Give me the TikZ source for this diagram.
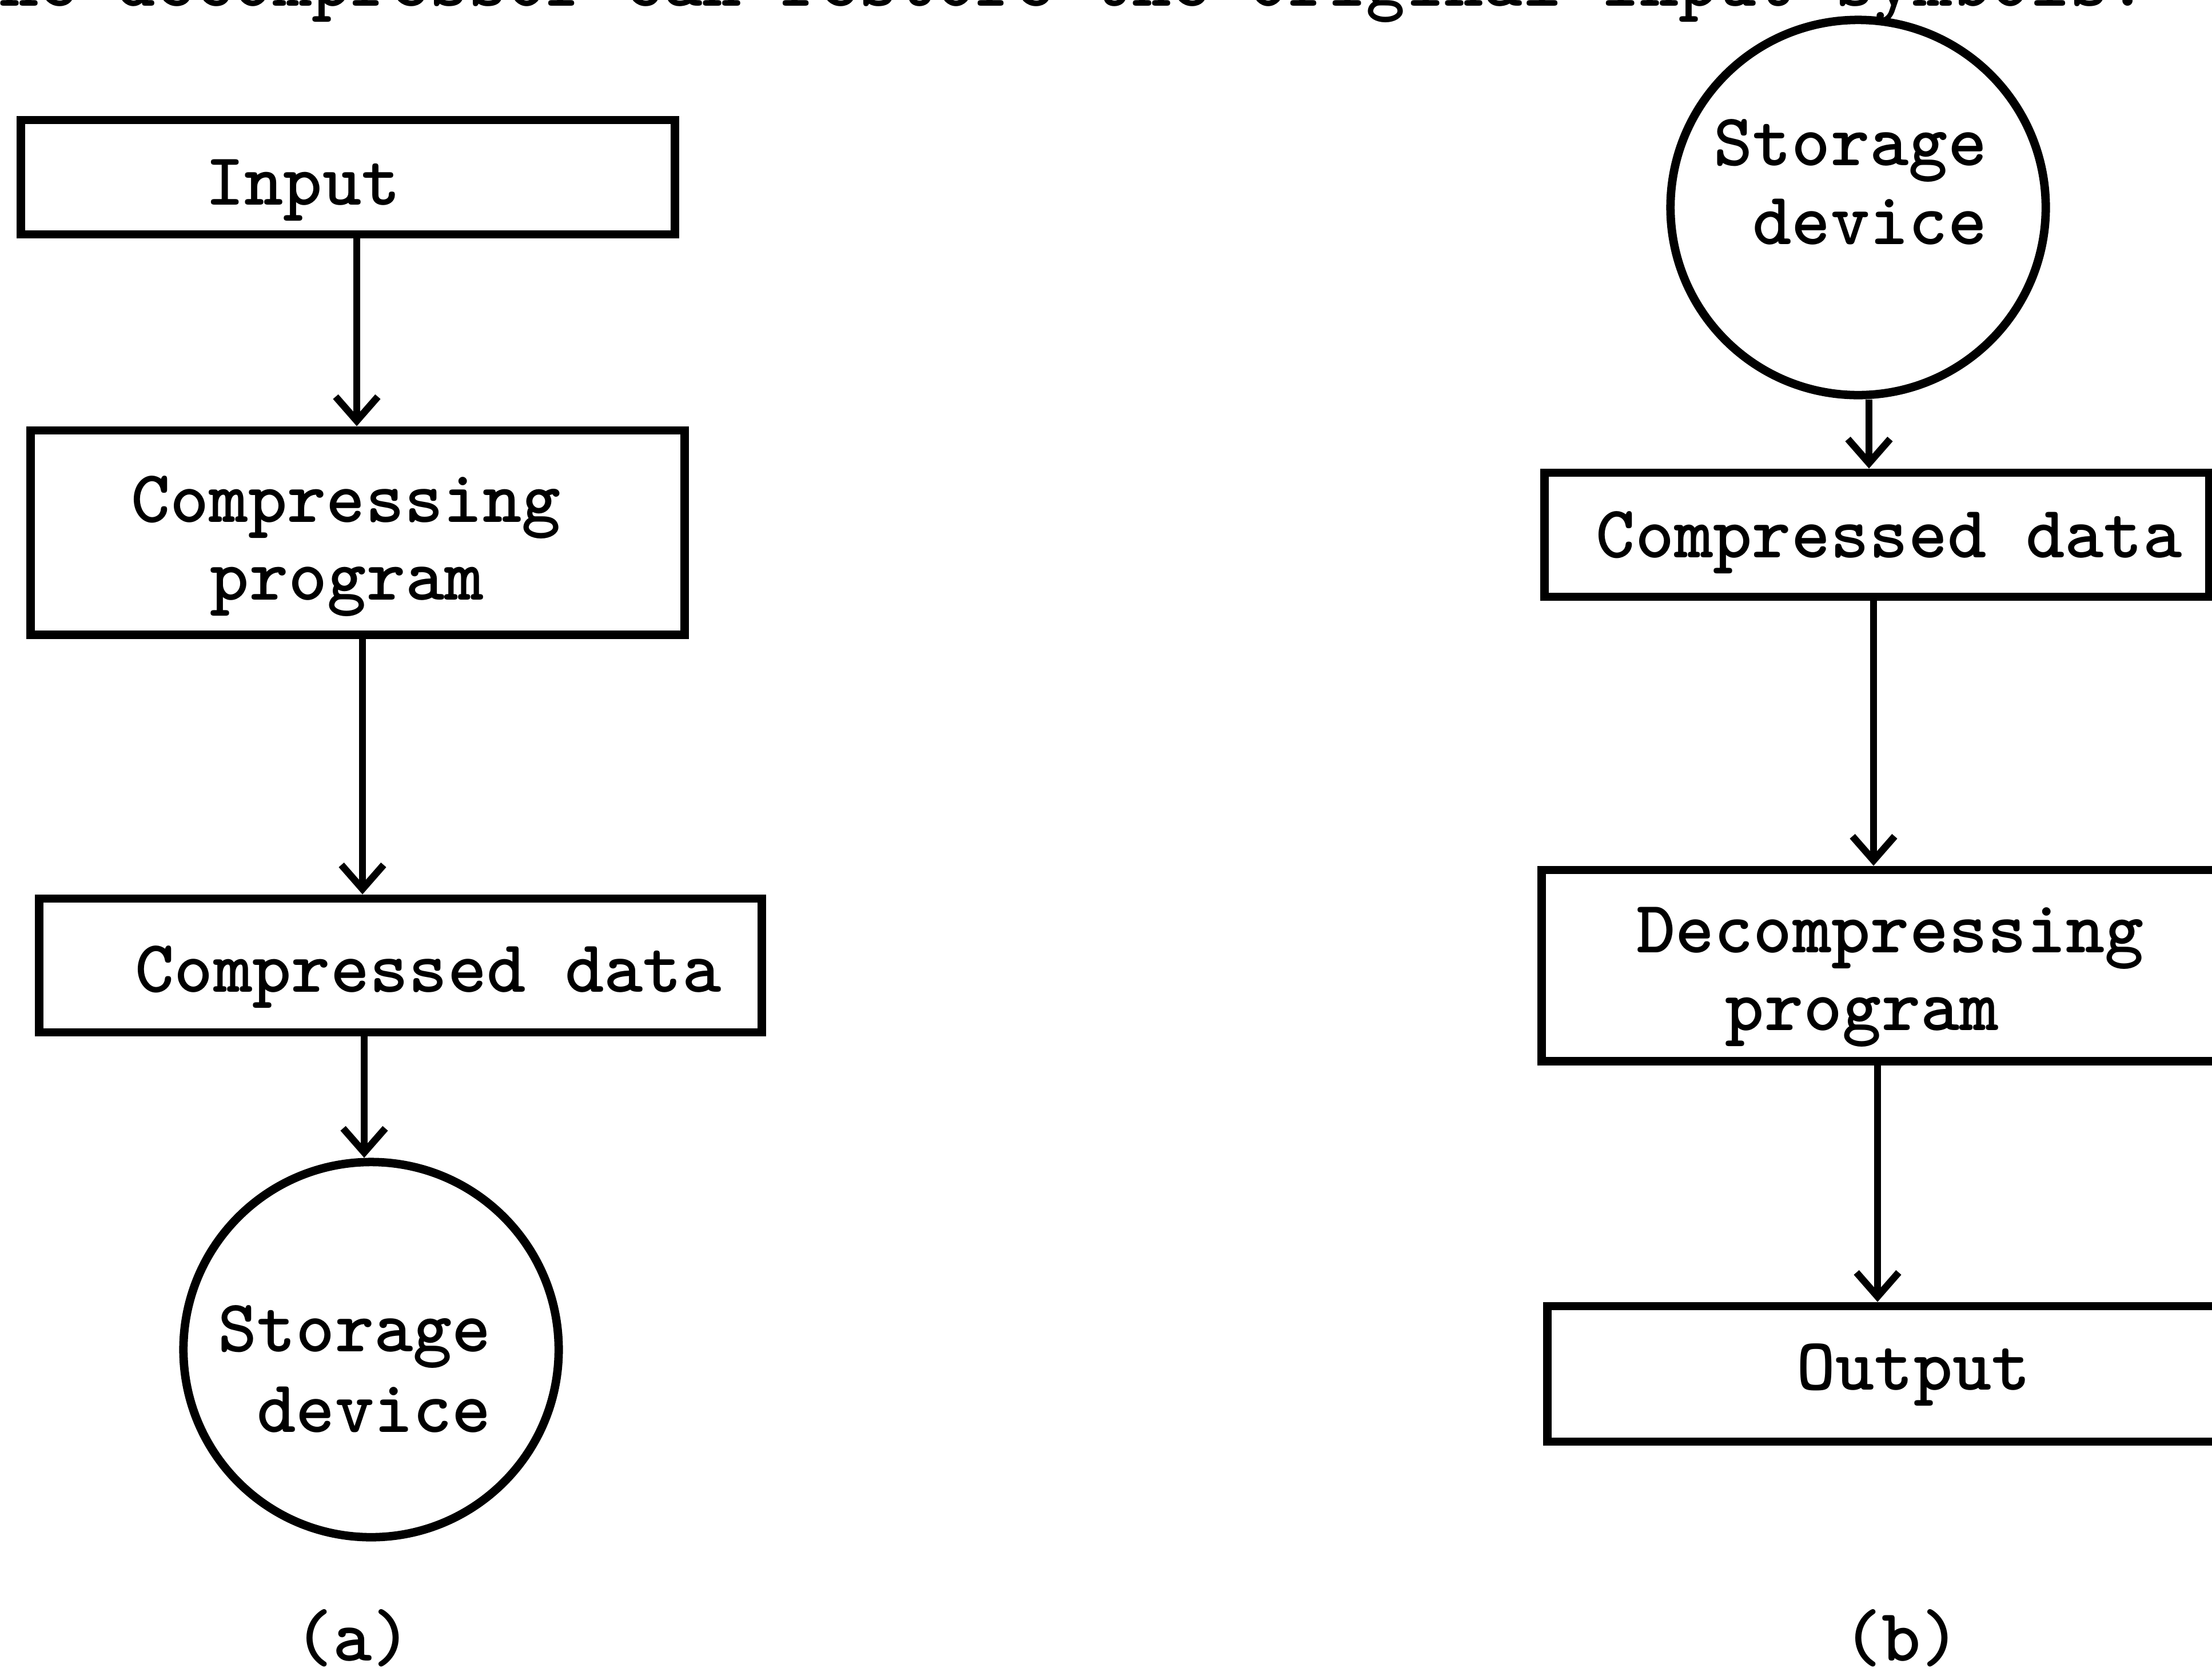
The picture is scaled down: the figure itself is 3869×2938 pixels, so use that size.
\documentclass[tikz,border=0pt]{standalone}
\usetikzlibrary{arrows.meta}
\begin{document}
\begin{tikzpicture}[x=0.01cm,y=-0.01cm]
\tikzset{
  box/.style={draw, rectangle, line width=4.2pt, inner sep=0pt},
  circ/.style={draw, circle, line width=4.2pt, inner sep=0pt, minimum size=6.56cm},
  lbl/.style={font=\fontsize{37}{44}\selectfont\ttfamily\bfseries, inner sep=0pt, anchor=base, yshift=0.07cm},
  lble/.style={lbl, anchor=base east},
  arr/.style={line width=3.5pt, -{Straight Barb[length=12pt,width=21pt]}}
}
\useasboundingbox (0,0) rectangle (3869,2938);
% cut-off top line of running text
\node[lbl, anchor=base west, yshift=-0.07cm] (topline) at (-70,10) {the decompressor can restore the original input symbols.};
% (a)
\node[box, minimum width=11.43cm, minimum height=2.00cm] (inp) at (608.5,310) {};
\node[lbl] (inpt) at (530,365) {Input};
\node[box, minimum width=11.43cm, minimum height=3.57cm] (cp) at (625.5,931.5) {};
\node[lbl] (cpt1) at (605,920) {Compressing};
\node[lbl] (cpt2) at (607,1056) {program};
\node[box, minimum width=12.63cm, minimum height=2.34cm] (cdl) at (700.5,1689) {};
\node[lbl] (cdlt) at (749,1742) {Compressed data};
\node[circ] (sdl) at (649,2361) {};
\node[lble] (sdlt1) at (860,2371) {Storage};
\node[lble] (sdlt2) at (860,2512) {device};
\node[lbl] (capa) at (617,2912) {(a)};
\coordinate (ax1) at (624,0);
\coordinate (ax2) at (634,0);
\coordinate (ax3) at (637,0);
\draw[arr] (ax1 |- inp.south) -- (ax1 |- cp.north);
\draw[arr] (ax2 |- cp.south) -- (ax2 |- cdl.north);
\draw[arr] (ax3 |- cdl.south) -- (ax3 |- sdl.north);
% (b)
\node[circ] (sdr) at (3250,363) {};
\node[lble] (sdrt1) at (3476,296) {Storage};
\node[lble] (sdrt2) at (3476,434) {device};
\node[box, minimum width=11.62cm, minimum height=2.17cm] (cdr) at (3283,935.5) {};
\node[lbl] (cdrt) at (3304,982) {Compressed data};
\node[box, minimum width=11.83cm, minimum height=3.34cm] (dp) at (3288.5,1689) {};
\node[lbl] (dpt1) at (3306,1673) {Decompressing};
\node[lbl] (dpt2) at (3257,1809) {program};
\node[box, minimum width=11.73cm, minimum height=2.37cm] (out) at (3293.5,2403.5) {};
\node[lbl] (outt) at (3347,2438) {Output};
\node[lbl] (capb) at (3326,2912) {(b)};
\coordinate (bx1) at (3269,0);
\coordinate (bx2) at (3277,0);
\coordinate (bx3) at (3284,0);
\draw[arr] (bx1 |- sdr.south) -- (bx1 |- cdr.north);
\draw[arr] (bx2 |- cdr.south) -- (bx2 |- dp.north);
\draw[arr] (bx3 |- dp.south) -- (bx3 |- out.north);
\end{tikzpicture}
\end{document}
